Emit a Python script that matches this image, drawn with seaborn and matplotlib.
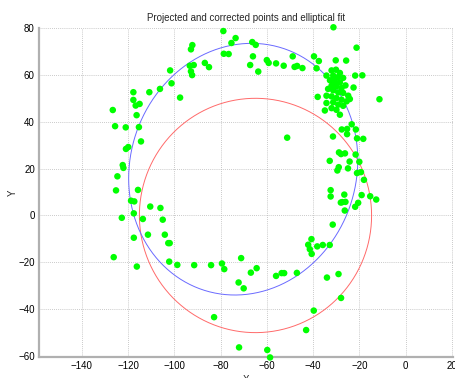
import numpy as np
import pandas as pd
import matplotlib
matplotlib.use("Agg")
import matplotlib.pyplot as plt
import seaborn as sns

# ---- data ----
pts_x = [
    -126.6, -125.6, -121.0, -115.3, -117.7, -117.7, -116.7, -115.0, -116.3, -110.8,
    -106.2, -101.8, -101.2, -97.5, -92.8, -92.2, -93.3, -91.6, -92.8, -92.3,
    -86.8, -85.0, -78.8, -78.6, -76.5, -75.3, -73.5, -67.2, -66.3, -66.0,
    -64.8, -63.7, -60.0, -59.2, -56.0, -52.7, -48.8, -48.0, -46.9, -44.6,
    -39.6, -38.5, -37.5, -31.2, -30.2, -25.7, -21.2, -21.8, -18.7, -22.5,
    -11.3, -38.0,
    # dense cluster
    -34.2, -32.0, -30.1, -28.4, -31.3, -29.1, -27.0, -32.7, -30.6, -28.4,
    -32.0, -29.9, -27.7, -33.5, -31.3, -29.1, -27.0, -24.8, -34.2, -32.0,
    -29.9, -27.7, -25.5, -24.1, -34.2, -31.3, -29.1, -27.0, -32.0, -34.9,
    -29.9, -28.4, -30.5, -26.0,
    # right side below 40
    -27.6, -25.3, -23.3, -21.5, -25.3, -31.4, -21.0, -18.3, -51.2,
    -28.8, -27.9, -26.2, -21.6, -32.8, -24.2, -20.0, -28.9, -29.5, -24.9,
    -21.0, -19.3, -18.0, -32.4, -32.4, -26.5, -19.0, -15.3, -12.7, -27.4,
    -26.0, -28.0, -20.5, -21.8, -26.3, -31.5,
    -40.7, -42.1, -41.4, -40.6, -38.2, -35.8, -32.8,
    # left side
    -120.9, -119.9, -114.4, -122.3, -122.0, -124.6, -125.2, -115.7, -118.7, -117.3,
    -110.4, -106.0, -122.7, -117.5, -113.6, -105.0, -117.5, -111.4, -104.1, -102.6,
    -102.0,
    # bottom
    -126.2, -116.2, -102.2, -98.7, -91.4, -84.1, -79.4, -78.4, -82.8, -72.2,
    -71.1, -66.9, -64.4, -70.0, -56.0, -53.6, -52.5, -47.0, -34.0, -29.0,
    -27.9, -39.7, -43.0, -72.0, -59.8, -58.6,
]
pts_y = [
    45.0, 38.1, 37.6, 37.7, 52.6, 49.3, 46.9, 47.6, 42.8, 52.6,
    54.0, 61.9, 56.4, 50.3, 70.9, 72.7, 63.9, 64.2, 61.5, 59.9,
    65.1, 63.3, 78.7, 69.0, 68.9, 73.6, 75.7, 64.2, 74.0, 67.9,
    72.8, 61.4, 66.3, 65.1, 64.9, 63.9, 67.9, 63.4, 63.8, 62.9,
    67.9, 62.8, 65.9, 80.3, 66.2, 66.1, 71.6, 59.7, 59.8, 54.6,
    49.6, 50.6,
    59.7, 61.9, 62.2, 60.8, 59.7, 59.1, 58.7, 57.7, 57.2, 56.8,
    55.4, 55.1, 54.4, 54.0, 53.4, 52.5, 52.3, 51.1, 51.1, 50.8,
    50.1, 49.4, 48.7, 49.7, 48.0, 48.3, 47.3, 46.8, 45.8, 44.8,
    45.1, 43.0, 58.5, 55.5,
    36.7, 36.9, 38.9, 36.7, 34.7, 33.7, 32.9, 32.7, 33.2,
    26.9, 26.2, 26.5, 26.0, 23.3, 23.0, 22.9, 20.6, 19.2, 20.1,
    18.1, 18.5, 15.2, 10.8, 8.1, 8.9, 8.7, 8.2, 6.8, 5.7,
    5.8, 5.5, 5.4, 3.7, 2.1, -3.9,
    -10.1, -12.5, -14.4, -16.4, -13.2, -12.6, -12.6,
    28.4, 29.2, 31.6, 21.5, 20.3, 16.7, 10.7, 10.9, 6.3, 6.0,
    3.8, 3.2, -1.0, 0.9, -1.5, -1.8, -9.5, -8.2, -8.2, -11.8,
    -11.8,
    -17.8, -21.8, -19.7, -21.1, -21.2, -21.2, -20.5, -22.9, -43.4, -28.6,
    -18.2, -24.4, -22.5, -31.1, -25.8, -24.6, -24.6, -24.5, -26.5, -25.0,
    -35.2, -40.6, -48.9, -56.3, -57.4, -60.6,
]

# fitted ellipse (blue) parameters
ell_cx, ell_cy = -70.2, 19.75
ell_ax, ell_sx = 49.4, 3.6
ell_ay = 53.7
# reference circle (red) parameters
circ_cx, circ_cy = -64.9, 0.0
circ_rx, circ_ry = 50.2, 50.0

x_ticks = [-140, -120, -100, -80, -60, -40, -20, 0, 20]
y_ticks = [-60, -40, -20, 0, 20, 40, 60, 80]

title = "Projected and corrected points and elliptical fit"

# ---- plotting ----
sns.set_style("white")
plt.rcParams['font.family'] = ['Liberation Sans', 'DejaVu Sans']

fig = plt.figure(figsize=(4.55, 3.78), dpi=100)
ax = fig.add_axes([39/455, 21/378, 414/455, 329/378])

t = np.linspace(0, 2*np.pi, 400)
ell = pd.DataFrame({
    "x": ell_cx + ell_ax*np.cos(t) + ell_sx*np.sin(t),
    "y": ell_cy + ell_ay*np.sin(t),
})
circ = pd.DataFrame({
    "x": circ_cx + circ_rx*np.cos(t),
    "y": circ_cy + circ_ry*np.sin(t),
})

sns.lineplot(data=circ, x="x", y="y", sort=False, estimator=None,
             color="#ff6a6a", linewidth=0.7, ax=ax)
sns.lineplot(data=ell, x="x", y="y", sort=False, estimator=None,
             color="#6a6aff", linewidth=0.7, ax=ax)

pts = pd.DataFrame({"x": pts_x, "y": pts_y})
sns.scatterplot(data=pts, x="x", y="y", color="#00ff00", s=22,
                edgecolor="none", ax=ax, clip_on=False, zorder=3)

ax.set_xlim(-158.5, 20.5)
ax.set_ylim(-60.4, 80)
ax.set_xticks(x_ticks)
ax.set_yticks(y_ticks)
ax.grid(True, linestyle=(0, (1, 1.5)), color="#b8b8b8", linewidth=0.6)
ax.set_axisbelow(True)

for s in ["top", "right"]:
    ax.spines[s].set_visible(False)
for s in ["left", "bottom"]:
    ax.spines[s].set_color("#b0b0b0")
    ax.spines[s].set_linewidth(1.6)

ax.tick_params(axis="both", direction="in", length=3, width=0.6,
               color="#808080", labelsize=7, labelcolor="black", pad=3)

ax.set_title(title, fontsize=7, pad=5)
ax.set_xlabel("X", fontsize=7, labelpad=3)
ax.set_ylabel("Y", fontsize=7, labelpad=0.5)

fig.savefig("out.png", dpi=100)
